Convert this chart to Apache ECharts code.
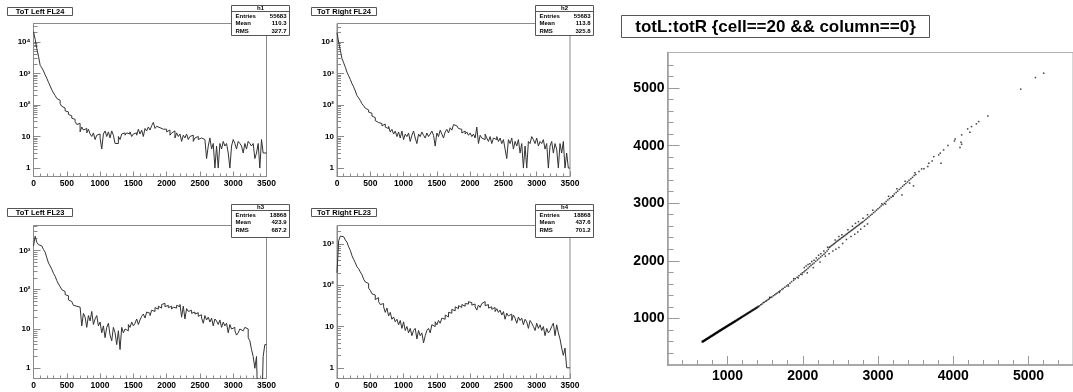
<!DOCTYPE html>
<html>
<head>
<meta charset="utf-8">
<script src="https://cdn.jsdelivr.net/npm/echarts@6/dist/echarts.min.js"></script>
<style>
  html, body { margin: 0; padding: 0; background: #fff; }
  #main { width: 1073px; height: 392px; }
</style>
</head>
<body>
<div id="main"></div>
<script>
// bin width of the ToT histograms, counts (0..3500)
const binWidth = 25;
const h1Counts = [21000, 12000, 6000, 3500, 1800, 1500, 1200, 900, 700, 520, 400, 300, 240, 200, 160, 140, 110, 90, 80, 65,
  60, 50, 45, 38, 35, 30, 24, 26, 14, 20, 16, 18, 13, 17, 12, 10, 13, 8, 11, 12,
  9, 4, 12, 15, 10, 14, 9, 15, 11, 6, 6, 10, 8, 12, 13, 11, 13, 12, 14, 10,
  12, 13, 11, 17, 12, 16, 10, 18, 15, 20, 16, 22, 28, 18, 21, 19, 20, 17, 15, 17,
  14, 16, 11, 13, 15, 9, 13, 10, 12, 7, 11, 9, 12, 8, 10, 11, 7, 9, 10, 8,
  9, 10, 8, 7, 2, 5, 9, 4, 6, 1, 5, 1, 6, 4, 7, 5, 6, 3, 1, 5,
  8, 6, 4, 7, 6, 5, 3, 6, 4, 7, 6, 5, 6, 2, 3, 6, 1, 8, 3, 3];
const h2Counts = [20000, 10000, 5500, 3000, 2200, 1600, 1100, 850, 650, 480, 380, 280, 200, 170, 140, 110, 95, 80, 70, 60,
  55, 45, 40, 32, 28, 30, 26, 22, 25, 20, 18, 21, 14, 17, 12, 15, 10, 14, 9, 15,
  8, 12, 10, 13, 7, 11, 15, 9, 6, 12, 10, 14, 11, 9, 13, 10, 12, 15, 11, 5,
  13, 10, 16, 12, 9, 14, 17, 13, 19, 16, 24, 22, 20, 18, 17, 13, 15, 12, 14, 11,
  13, 10, 12, 9, 20, 6, 11, 9, 8, 12, 9, 7, 10, 6, 9, 8, 10, 7, 9, 6,
  8, 4, 2, 8, 6, 9, 4, 7, 5, 8, 3, 6, 1, 5, 1, 7, 6, 10, 8, 6,
  9, 5, 7, 6, 8, 4, 6, 1, 5, 7, 3, 6, 4, 1, 6, 3, 7, 1, 3, 1];
const h3Counts = [1300, 2300, 1600, 1400, 1300, 1200, 1050, 900, 650, 480, 400, 330, 260, 220, 170, 140, 120, 100, 90, 75,
  70, 55, 50, 45, 40, 38, 40, 36, 35, 12, 25, 20, 11, 22, 16, 28, 13, 18, 22, 12,
  15, 8, 12, 6, 11, 14, 7, 5, 11, 8, 4, 9, 3, 11, 8, 10, 9, 13, 11, 15,
  12, 14, 18, 13, 17, 21, 24, 19, 27, 25, 22, 30, 28, 35, 32, 38, 34, 42, 45, 37,
  40, 35, 38, 32, 36, 34, 40, 37, 42, 20, 38, 18, 33, 28, 30, 25, 27, 24, 26, 21,
  23, 19, 14, 22, 17, 20, 15, 19, 12, 18, 16, 13, 17, 11, 15, 12, 14, 8, 13, 10,
  11, 9, 7, 8, 10, 9, 10, 11, 10, 6, 5, 3, 2, 1, 2, 0, 0, 0, 2, 4];
const h4Counts = [200, 1200, 1550, 1500, 1400, 1250, 1100, 850, 700, 520, 420, 350, 280, 250, 210, 180, 140, 120, 110, 85,
  75, 62, 58, 45, 50, 40, 34, 36, 30, 22, 28, 18, 22, 15, 17, 13, 15, 11, 14, 9,
  13, 8, 10, 7, 9, 6, 8, 9, 5, 8, 6, 7, 4, 6, 8, 9, 7, 11, 10, 13,
  11, 14, 12, 16, 15, 19, 17, 22, 21, 26, 24, 30, 27, 32, 29, 34, 31, 36, 35, 40,
  38, 33, 35, 30, 25, 33, 29, 36, 40, 32, 34, 28, 30, 26, 29, 23, 27, 22, 25, 19,
  23, 15, 21, 18, 20, 14, 19, 16, 12, 17, 14, 16, 11, 15, 13, 9, 14, 12, 10, 8,
  12, 9, 11, 8, 10, 6, 9, 7, 8, 10, 12, 6, 11, 7, 5, 3, 2, 3, 1, 1];

const histTitles = ['ToT Left FL24', 'ToT Right FL24', 'ToT Left FL23', 'ToT Right FL23'];
const histNames = ['h1', 'h2', 'h3', 'h4'];
const statLabels = ['Entries', 'Mean', 'RMS'];
const statValues = [
  ['55683', '110.3', '327.7'],
  ['55683', '113.8', '325.8'],
  ['18868', '423.9', '687.2'],
  ['18868', '437.6', '701.2']
];

// axis ticks
const histXTicks = [0, 500, 1000, 1500, 2000, 2500, 3000, 3500];
const logTickValues = [1, 10, 100, 1000, 10000];
const logTickText = ['1', '10', '10²', '10³', '10⁴'];
const logMinorTicks = [2, 3, 4, 5, 6, 7, 8, 9, 20, 30, 40, 50, 60, 70, 80, 90,
  200, 300, 400, 500, 600, 700, 800, 900, 2000, 3000, 4000, 5000, 6000, 7000, 8000, 9000, 20000, 30000];
const scatterMajorTicks = [1000, 2000, 3000, 4000, 5000];
const scatterMinorTicks = [400, 600, 800, 1200, 1400, 1600, 1800, 2200, 2400, 2600, 2800, 3200, 3400, 3600, 3800,
  4200, 4400, 4600, 4800, 5200, 5400];

// totL:totR, the dense low band (drawn a bit heavier)
const scatterCore = [
  [668, 593], [672, 598], [680, 602], [688, 609], [695, 614], [702, 622], [710, 626], [716, 633], [724, 640], [731, 644],
  [738, 651], [746, 657], [752, 663], [760, 668], [768, 676], [775, 681], [783, 689], [790, 693], [798, 700], [806, 707],
  [812, 712], [820, 719], [828, 724], [836, 732], [843, 737], [850, 744], [858, 750], [866, 757], [873, 762], [880, 769],
  [888, 775], [896, 782], [903, 788], [910, 793], [918, 800], [926, 806], [934, 813], [941, 818], [948, 825], [956, 831],
  [964, 838], [972, 843], [980, 851], [988, 856], [996, 864], [1004, 870], [1012, 876], [1020, 883], [1028, 889], [1036, 896],
  [1044, 902], [1052, 908], [1060, 915], [1068, 921], [1076, 928], [1084, 934], [1092, 941], [1100, 947], [1110, 955], [1120, 963],
  [1130, 972], [1140, 980], [1150, 988], [1160, 997], [1170, 1005], [1180, 1013], [1190, 1022], [1200, 1030], [1212, 1040], [1224, 1050],
  [1236, 1059], [1248, 1069], [1260, 1080], [1272, 1089], [1285, 1100], [1298, 1110], [1311, 1121], [1324, 1132], [1337, 1143], [1350, 1153],
  [1364, 1165], [1378, 1176], [1392, 1188], [1409, 1202]
];
// totL:totR, everything above the dense band
const scatterPoints = [
  [1425, 1218], [1442, 1236], [1458, 1249], [1475, 1268], [1490, 1280], [1508, 1296], [1522, 1310], [1540, 1327], [1556, 1340], [1575, 1360],
  [1590, 1372], [1610, 1392], [1628, 1408], [1645, 1426], [1662, 1440], [1684, 1462], [1700, 1478], [1722, 1500], [1740, 1519], [1762, 1540],
  [1785, 1562], [1805, 1585], [1830, 1610], [1852, 1636], [1878, 1660], [1900, 1688], [1925, 1712], [1950, 1740], [1972, 1765], [1995, 1790],
  [1560, 1365], [1690, 1450], [1810, 1560], [1880, 1690], [1940, 1700], [1990, 1760],
  [2015, 1805], [2030, 1825], [2050, 1845], [2070, 1870], [2090, 1895], [2110, 1918], [2130, 1940], [2150, 1962], [2172, 1990], [2195, 2015],
  [2215, 2040], [2238, 2065], [2260, 2090], [2282, 2115], [2300, 2140], [2322, 2170], [2340, 2200], [2352, 2232], [2365, 2245], [2380, 2262],
  [2395, 2275], [2410, 2290], [2425, 2305], [2440, 2320], [2455, 2338], [2470, 2352], [2485, 2368], [2500, 2380], [2515, 2398], [2530, 2410],
  [2545, 2428], [2560, 2440], [2575, 2458], [2590, 2470], [2605, 2488], [2620, 2500], [2635, 2515], [2650, 2530], [2665, 2545], [2680, 2560],
  [2695, 2575], [2710, 2590], [2725, 2605], [2740, 2618], [2755, 2635], [2770, 2650], [2785, 2665], [2800, 2680], [2820, 2700], [2840, 2722],
  [2860, 2745], [2880, 2765], [2900, 2790], [2920, 2810], [2940, 2835], [2960, 2858], [2980, 2880], [3000, 2905],
  [2020, 1880], [2045, 1910], [2070, 1935], [2095, 1950], [2120, 1985], [2150, 2010], [2180, 2050], [2210, 2095], [2240, 2120], [2280, 2170],
  [2330, 2235], [2430, 2360], [2480, 2420], [2520, 2450], [2600, 2540], [2660, 2600], [2700, 2650], [2740, 2680], [2800, 2740], [2860, 2800],
  [2930, 2880],
  [2060, 1790], [2140, 1880], [2230, 1980], [2300, 2080], [2350, 2120], [2400, 2170], [2440, 2200], [2480, 2230], [2530, 2300], [2580, 2370],
  [2640, 2420], [2690, 2460], [2730, 2500], [2770, 2550], [2820, 2600], [2860, 2640],
  [3021, 2925], [3040, 2950], [3065, 2975], [3085, 3000], [3108, 3030], [3130, 3055], [3152, 3080], [3174, 3105], [3195, 3130], [3217, 3160],
  [3240, 3185], [3261, 3210], [3283, 3240], [3305, 3265], [3327, 3295], [3348, 3320], [3370, 3345], [3392, 3370], [3413, 3400], [3436, 3425],
  [3458, 3450], [3480, 3480], [3501, 3500],
  [3050, 2990], [3100, 2985], [3140, 3120], [3200, 3120], [3250, 3250], [3318, 3144], [3360, 3380], [3420, 3350], [3471, 3301], [3490, 3530],
  [3544, 3550], [3579, 3597], [3610, 3600], [3661, 3637], [3674, 3696], [3719, 3735], [3740, 3810], [3806, 3840], [3827, 3870], [3836, 3696],
  [3871, 3927], [3928, 4002],
  [4015, 4083], [4024, 4118], [4089, 3967], [4102, 4061], [4111, 4026], [4111, 4188], [4190, 4292], [4220, 4235], [4242, 4332], [4307, 4379],
  [4337, 4419], [4459, 4518], [4895, 4983], [5091, 5184], [5200, 5261]
];

const FONT = 'Liberation Sans, Arial, Helvetica, sans-serif';
const FRAME = '#8a8a8a';
const INK = '#333';

const chart = echarts.init(document.getElementById('main'));

// frame of each histogram pad: left, top, width, height, y range
const pads = [
  {left: 33.5, top: 23.5, width: 233, height: 153, yMin: 0.54, yMax: 38000},
  {left: 337, top: 23.5, width: 233, height: 153, yMin: 0.54, yMax: 39000},
  {left: 33.5, top: 225.5, width: 233, height: 153, yMin: 0.55, yMax: 4300},
  {left: 337, top: 225.5, width: 233, height: 153, yMin: 0.55, yMax: 2800}
];
const allCounts = [h1Counts, h2Counts, h3Counts, h4Counts];

function histData(counts) {
  // empty bins go below the frame so the step drops to the axis
  const d = counts.map((c, i) => [i * binWidth, c > 0 ? c : 0.05]);
  d.push([counts.length * binWidth, d[d.length - 1][1]]);
  return d;
}
const plain = v => String(Math.round(v));

const grids = [], xAxes = [], yAxes = [], series = [], graphics = [];

pads.forEach((p, k) => {
  grids.push({left: p.left, top: p.top, width: p.width, height: p.height,
    show: true, borderColor: FRAME, borderWidth: 1, containLabel: false});
  xAxes.push({
    type: 'value', gridIndex: k, min: 0, max: 3500, interval: 500,
    axisLine: {lineStyle: {color: FRAME, width: 1}},
    axisTick: {inside: true, length: 5, lineStyle: {color: FRAME}},
    minorTick: {show: true, splitNumber: 5, length: 3, lineStyle: {color: FRAME}},
    splitLine: {show: false},
    axisLabel: {margin: 3, color: '#000', fontFamily: FONT, fontWeight: 'bold', fontSize: 8.5,
      customValues: histXTicks, formatter: plain}
  });
  // decade ticks + labels
  yAxes.push({
    type: 'log', logBase: 10, gridIndex: k, min: p.yMin, max: p.yMax, position: 'left',
    axisLine: {lineStyle: {color: FRAME, width: 1}},
    axisTick: {inside: true, length: 7, lineStyle: {color: FRAME}, customValues: logTickValues},
    splitLine: {show: false},
    axisLabel: {margin: 3, color: '#000', fontFamily: FONT, fontWeight: 'bold', fontSize: 8,
      customValues: logTickValues,
      formatter: v => {
        const i = logTickValues.findIndex(t => Math.abs(t - v) / t < 1e-6);
        return i >= 0 ? logTickText[i] : '';
      }}
  });
  // minor ticks 2..9 of each decade
  yAxes.push({
    type: 'log', logBase: 10, gridIndex: k, min: p.yMin, max: p.yMax, position: 'left',
    axisLine: {show: false},
    axisTick: {inside: true, length: 4, lineStyle: {color: FRAME},
      customValues: logMinorTicks.filter(v => v > p.yMin && v < p.yMax)},
    axisLabel: {show: false},
    splitLine: {show: false}
  });
  series.push({
    type: 'line', xAxisIndex: k, yAxisIndex: 2 * k, step: 'end', symbol: 'none', clip: true,
    lineStyle: {color: INK, width: 1}, data: histData(allCounts[k]), animation: false
  });

  // title pave
  const tx = k % 2 === 0 ? 7.5 : 311.5;
  const ty = k < 2 ? 7.5 : 208.5;
  graphics.push({type: 'rect', shape: {x: tx, y: ty, width: 65, height: 8}, z: 100,
    style: {fill: '#fff', stroke: '#555', lineWidth: 1}});
  graphics.push({type: 'text', x: tx + 32.5, y: ty + 4.3, z: 101,
    style: {text: histTitles[k], fill: '#000', font: 'bold 7.5px ' + FONT, align: 'center', verticalAlign: 'middle'}});

  // stats box
  const sx = k % 2 === 0 ? 231.5 : 535.5;
  const sy = k < 2 ? 5.5 : 204.5;
  const sh = k < 2 ? 30 : 33;
  const row = k < 2 ? 7.5 : 7.7;
  graphics.push({type: 'rect', shape: {x: sx, y: sy, width: 58, height: sh}, z: 100,
    style: {fill: '#fff', stroke: '#555', lineWidth: 1}});
  graphics.push({type: 'line', shape: {x1: sx, y1: sy + 6, x2: sx + 58, y2: sy + 6}, z: 101,
    style: {stroke: '#555', lineWidth: 1}});
  graphics.push({type: 'text', x: sx + 29, y: sy + 3.2, z: 101,
    style: {text: histNames[k], fill: '#000', font: 'bold 6px ' + FONT, align: 'center', verticalAlign: 'middle'}});
  statLabels.forEach((lab, r) => {
    const yy = sy + 10.5 + r * row;
    graphics.push({type: 'text', x: sx + 4, y: yy, z: 101,
      style: {text: lab, fill: '#000', font: 'bold 6px ' + FONT, align: 'left', verticalAlign: 'middle'}});
    graphics.push({type: 'text', x: sx + 55, y: yy, z: 101,
      style: {text: statValues[k][r], fill: '#000', font: 'bold 6px ' + FONT, align: 'right', verticalAlign: 'middle'}});
  });
});

// scatter pad
const S = grids.length;
grids.push({left: 667.5, top: 52.5, width: 412, height: 312.5, show: true, borderColor: '#b0b0b0', borderWidth: 1});
xAxes.push({
  type: 'value', gridIndex: S, min: 203, max: 5590, position: 'bottom',
  axisLine: {lineStyle: {color: '#9a9a9a', width: 1.5}},
  axisTick: {inside: true, length: 9, lineStyle: {color: '#9a9a9a'}, customValues: scatterMajorTicks},
  splitLine: {show: false},
  axisLabel: {margin: 4, color: '#000', fontFamily: FONT, fontWeight: 'bold', fontSize: 14,
    customValues: scatterMajorTicks, formatter: plain}
});
xAxes.push({
  type: 'value', gridIndex: S, min: 203, max: 5590, position: 'bottom',
  axisLine: {show: false},
  axisTick: {inside: true, length: 5, lineStyle: {color: '#9a9a9a'}, customValues: scatterMinorTicks},
  axisLabel: {show: false}, splitLine: {show: false}
});
yAxes.push({
  type: 'value', gridIndex: S, min: 188, max: 5620, position: 'left',
  axisLine: {lineStyle: {color: '#9a9a9a', width: 1.5}},
  axisTick: {inside: true, length: 12, lineStyle: {color: '#9a9a9a'}, customValues: scatterMajorTicks},
  splitLine: {show: false},
  axisLabel: {margin: 3, color: '#000', fontFamily: FONT, fontWeight: 'bold', fontSize: 14,
    customValues: scatterMajorTicks, formatter: plain}
});
yAxes.push({
  type: 'value', gridIndex: S, min: 188, max: 5620, position: 'left',
  axisLine: {show: false},
  axisTick: {inside: true, length: 6, lineStyle: {color: '#9a9a9a'}, customValues: scatterMinorTicks},
  axisLabel: {show: false}, splitLine: {show: false}
});
series.push({
  type: 'scatter', xAxisIndex: xAxes.length - 2, yAxisIndex: yAxes.length - 2,
  symbol: 'rect', symbolSize: 2, itemStyle: {color: '#000'},
  data: scatterCore, animation: false
});
series.push({
  type: 'scatter', xAxisIndex: xAxes.length - 2, yAxisIndex: yAxes.length - 2,
  symbol: 'rect', symbolSize: 1.5, itemStyle: {color: '#111'},
  data: scatterPoints, animation: false
});

graphics.push({type: 'rect', shape: {x: 621.5, y: 15.5, width: 308, height: 22}, z: 100,
  style: {fill: '#fff', stroke: '#555', lineWidth: 1}});
graphics.push({type: 'text', x: 775.5, y: 27, z: 101,
  style: {text: 'totL:totR {cell==20 && column==0}', fill: '#000', font: 'bold 17px ' + FONT,
    align: 'center', verticalAlign: 'middle'}});

chart.setOption({
  animation: false,
  backgroundColor: '#fff',
  grid: grids,
  xAxis: xAxes,
  yAxis: yAxes,
  series: series,
  graphic: graphics
});
</script>
</body>
</html>
